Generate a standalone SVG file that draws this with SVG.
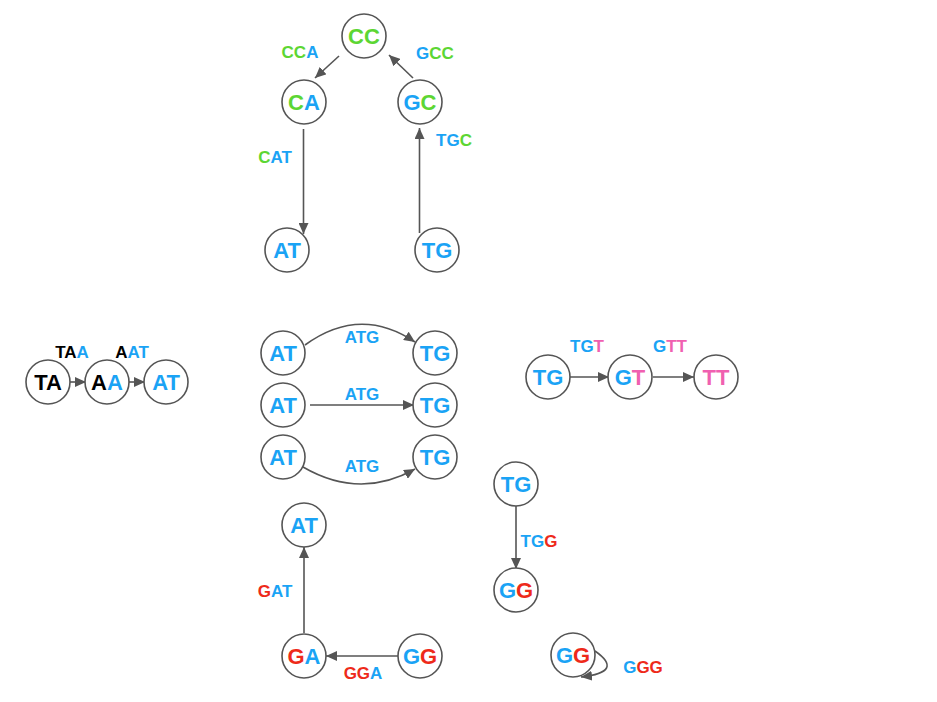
<svg xmlns="http://www.w3.org/2000/svg" width="937" height="702" viewBox="0 0 937 702">
<style>
.n circle{fill:#fff;stroke:#555;stroke-width:1.6}
.n text{font-family:"Liberation Sans",Arial,sans-serif;font-weight:bold;font-size:22px;text-anchor:middle}
.l{font-family:"Liberation Sans",Arial,sans-serif;font-weight:bold;font-size:17px;text-anchor:middle}
.e path{fill:none;stroke:#555;stroke-width:1.6}
.b{fill:#1aa3f5}.g{fill:#5cd633}.r{fill:#ee2a1a}.p{fill:#f060b0}.k{fill:#000}
</style>
<defs>
<marker id="ah" markerUnits="userSpaceOnUse" markerWidth="12" markerHeight="10" refX="11" refY="5" orient="auto">
<path d="M0,0 L11,5 L0,10 Z" fill="#555"/>
</marker>
</defs>
<rect width="937" height="702" fill="#fff"/>
<g id="edges" class="e">
<path d="M339,56 L315,78" marker-end="url(#ah)"/>
<path d="M413,78 L389,55" marker-end="url(#ah)"/>
<path d="M303.5,129 L303.5,234" marker-end="url(#ah)"/>
<path d="M419.5,233 L419.5,128" marker-end="url(#ah)"/>
<path d="M70,382 L86,382" marker-end="url(#ah)"/>
<path d="M129,382 L145,382" marker-end="url(#ah)"/>
<path d="M305,345 Q360,305 415,342" marker-end="url(#ah)"/>
<path d="M310,405 L414,405" marker-end="url(#ah)"/>
<path d="M303,467 Q360,500 415,469" marker-end="url(#ah)"/>
<path d="M570,377 L609,377" marker-end="url(#ah)"/>
<path d="M653,377 L694,377" marker-end="url(#ah)"/>
<path d="M304,633 L304,547" marker-end="url(#ah)"/>
<path d="M398,656 L326,656" marker-end="url(#ah)"/>
<path d="M516,506 L516,569" marker-end="url(#ah)"/>
<path d="M595,651 Q625,672 581,677" marker-end="url(#ah)"/>
</g>
<g id="edge-labels" class="l">
<text x="300" y="58"><tspan class="g">CC</tspan><tspan class="b">A</tspan></text>
<text x="435" y="59"><tspan class="b">G</tspan><tspan class="g">CC</tspan></text>
<text x="275" y="163"><tspan class="g">C</tspan><tspan class="b">AT</tspan></text>
<text x="454" y="146"><tspan class="b">TG</tspan><tspan class="g">C</tspan></text>
<text x="72" y="358"><tspan class="k">TA</tspan><tspan class="b">A</tspan></text>
<text x="132" y="358"><tspan class="k">A</tspan><tspan class="b">AT</tspan></text>
<text x="362" y="343"><tspan class="b">ATG</tspan></text>
<text x="362" y="400"><tspan class="b">ATG</tspan></text>
<text x="362" y="472"><tspan class="b">ATG</tspan></text>
<text x="587" y="352"><tspan class="b">TG</tspan><tspan class="p">T</tspan></text>
<text x="670" y="352"><tspan class="b">G</tspan><tspan class="p">TT</tspan></text>
<text x="275" y="597"><tspan class="r">G</tspan><tspan class="b">AT</tspan></text>
<text x="363" y="679"><tspan class="r">GG</tspan><tspan class="b">A</tspan></text>
<text x="539" y="547"><tspan class="b">TG</tspan><tspan class="r">G</tspan></text>
<text x="643" y="673"><tspan class="b">G</tspan><tspan class="r">GG</tspan></text>
</g>
<g id="n-CC" class="n"><circle cx="364" cy="36" r="22"/><text x="364" y="44"><tspan class="g">CC</tspan></text></g>
<g id="n-CA" class="n"><circle cx="304" cy="102" r="22"/><text x="304" y="110"><tspan class="g">C</tspan><tspan class="b">A</tspan></text></g>
<g id="n-GC" class="n"><circle cx="420" cy="102" r="22"/><text x="420" y="110"><tspan class="b">G</tspan><tspan class="g">C</tspan></text></g>
<g id="n-AT1" class="n"><circle cx="287" cy="250" r="22"/><text x="287" y="258"><tspan class="b">AT</tspan></text></g>
<g id="n-TG1" class="n"><circle cx="437" cy="250" r="22"/><text x="437" y="258"><tspan class="b">TG</tspan></text></g>
<g id="n-TA" class="n"><circle cx="48" cy="382" r="22"/><text x="48" y="390"><tspan class="k">TA</tspan></text></g>
<g id="n-AA" class="n"><circle cx="107" cy="382" r="22"/><text x="107" y="390"><tspan class="k">A</tspan><tspan class="b">A</tspan></text></g>
<g id="n-AT2" class="n"><circle cx="166" cy="382" r="22"/><text x="166" y="390"><tspan class="b">AT</tspan></text></g>
<g id="n-AT3" class="n"><circle cx="283" cy="353" r="22"/><text x="283" y="361"><tspan class="b">AT</tspan></text></g>
<g id="n-TG3" class="n"><circle cx="435" cy="353" r="22"/><text x="435" y="361"><tspan class="b">TG</tspan></text></g>
<g id="n-AT4" class="n"><circle cx="283" cy="405" r="22"/><text x="283" y="413"><tspan class="b">AT</tspan></text></g>
<g id="n-TG4" class="n"><circle cx="435" cy="405" r="22"/><text x="435" y="413"><tspan class="b">TG</tspan></text></g>
<g id="n-AT5" class="n"><circle cx="283" cy="457" r="22"/><text x="283" y="465"><tspan class="b">AT</tspan></text></g>
<g id="n-TG5" class="n"><circle cx="435" cy="457" r="22"/><text x="435" y="465"><tspan class="b">TG</tspan></text></g>
<g id="n-TG6" class="n"><circle cx="548" cy="377" r="22"/><text x="548" y="385"><tspan class="b">TG</tspan></text></g>
<g id="n-GT" class="n"><circle cx="630" cy="377" r="22"/><text x="630" y="385"><tspan class="b">G</tspan><tspan class="p">T</tspan></text></g>
<g id="n-TT" class="n"><circle cx="716" cy="377" r="22"/><text x="716" y="385"><tspan class="p">TT</tspan></text></g>
<g id="n-AT6" class="n"><circle cx="304" cy="525" r="22"/><text x="304" y="533"><tspan class="b">AT</tspan></text></g>
<g id="n-GA" class="n"><circle cx="304" cy="656" r="22"/><text x="304" y="664"><tspan class="r">G</tspan><tspan class="b">A</tspan></text></g>
<g id="n-GG1" class="n"><circle cx="420" cy="656" r="22"/><text x="420" y="664"><tspan class="b">G</tspan><tspan class="r">G</tspan></text></g>
<g id="n-TG7" class="n"><circle cx="516" cy="484" r="22"/><text x="516" y="492"><tspan class="b">TG</tspan></text></g>
<g id="n-GG2" class="n"><circle cx="516" cy="590" r="22"/><text x="516" y="598"><tspan class="b">G</tspan><tspan class="r">G</tspan></text></g>
<g id="n-GG3" class="n"><circle cx="573" cy="655" r="22"/><text x="573" y="663"><tspan class="b">G</tspan><tspan class="r">G</tspan></text></g>
</svg>
